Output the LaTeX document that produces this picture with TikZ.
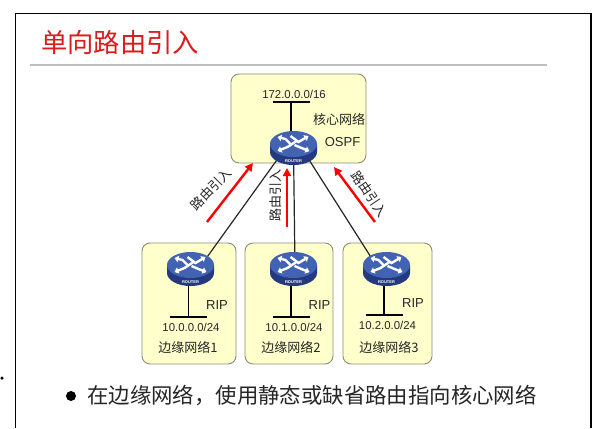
\documentclass[tikz,border=0pt]{standalone}
\usepackage{fontspec}
\setmainfont{Liberation Sans}
\newfontfamily\cjk{Noto Sans CJK SC}
\usetikzlibrary{arrows.meta,shapes.geometric}
\definecolor{boxfill}{HTML}{FFFFCC}
\definecolor{boxline}{HTML}{8C8C78}
\definecolor{rtop}{HTML}{4263B2}
\definecolor{rside}{HTML}{24397F}
\definecolor{titlered}{HTML}{DC1C1C}
\definecolor{rulegray}{HTML}{BEBEBE}
\tikzset{
 x=1pt,y=-1pt,
 netbox/.style={draw=boxline,fill=boxfill,line width=0.9pt,rounded corners=8pt},
 lbl/.style={font=\fontsize{11.4}{14}\selectfont,text=black!85,inner sep=0pt},
 riplbl/.style={font=\fontsize{13}{15}\selectfont,text=black!85,inner sep=0pt},
 cjklbl/.style={font=\fontsize{13}{15}\selectfont\cjk,text=black!85,inner sep=0pt},
 rnode/.style={ellipse,minimum width=47pt,minimum height=34pt,inner sep=0pt},
 link/.style={draw=black!85,line width=1.2pt},
 bus/.style={draw=black,line width=1.7pt},
 redarrow/.style={draw=red,line width=2.4pt,-{Triangle[length=8pt,width=8pt]}},
 rarrow/.style={draw=white,line width=2.4pt,line cap=butt,-{Triangle[length=4pt,width=6.4pt]}},
 pics/routerimg/.style={code={
  \fill[rside] (-23.5,-4) -- (-23.5,4) arc[start angle=180,end angle=0,x radius=23.5,y radius=13] -- (23.5,-4) -- cycle;
  \fill[rtop] (0,-4) ellipse[x radius=23.5,y radius=13];
  \draw[rarrow] (-2,-3) -- (-8,-9) -- (-16,-11);
  \draw[rarrow] (-3,-12) -- (5,-6) -- (15,-12);
  \draw[rarrow] (3,-7) -- (-6,-1) -- (-16,3);
  \draw[rarrow] (1,-3) -- (8,0) -- (16,3);
  \node[text=white,inner sep=0pt,font=\fontsize{4}{4}\selectfont\bfseries] at (0,13) {ROUTER};
 }}
}
\begin{document}
\begin{tikzpicture}
\useasboundingbox (0,0) rectangle (609,428);
\fill[white] (0,0) rectangle (609,428);
% frame
\draw[black,line width=1.1pt] (15.5,428) -- (15.5,13.5) -- (591,13.5) -- (591,428);
\draw[rulegray,line width=1.8pt] (30,65) -- (547,65);
\node[inner sep=0pt,anchor=west,text=titlered,font=\fontsize{26.3}{30}\selectfont\cjk] (title) at (41,42) {单向路由引入};
% boxes
\path[netbox] (231,74) rectangle (366,163);
\path[netbox] (142,243) rectangle (236,364);
\path[netbox] (245,243) rectangle (333,364);
\path[netbox] (343,243) rectangle (432,364);
% routers
\node[rnode] (r0) at (293.5,148) {};
\node[rnode] (r1) at (190.5,269) {};
\node[rnode] (r2) at (293.5,269) {};
\node[rnode] (r3) at (386.5,269) {};
% connectors
\draw[link] ([xshift=-8pt]r0.center) -- ([xshift=8pt]r1.center);
\draw[link] (r0.center) -- ([xshift=1.5pt]r2.center);
\draw[link] ([xshift=8pt]r0.center) -- ([xshift=-8pt]r3.center);
% buses
\coordinate (b0) at (291,102);
\coordinate (b1) at (188.5,317);
\coordinate (b2) at (291,317);
\coordinate (b3) at (384,315);
\draw[bus] ([xshift=-18.5pt]b0.center) -- ([xshift=18.5pt]b0.center);
\draw[bus] ([xshift=-18.5pt]b1.center) -- ([xshift=18.5pt]b1.center);
\draw[bus] ([xshift=-18.5pt]b2.center) -- ([xshift=18.5pt]b2.center);
\draw[bus] ([xshift=-18.5pt]b3.center) -- ([xshift=18.5pt]b3.center);
\draw[bus] (b0) -- (291,135);
\draw[bus] (b1) -- (188.5,282);
\draw[bus] (b2) -- (291,282);
\draw[bus] (b3) -- (384,282);
% router pictures
\pic at (r0) {routerimg};
\pic at (r1) {routerimg};
\pic at (r2) {routerimg};
\pic at (r3) {routerimg};
% labels
\node[lbl] (n0) at (294,94) {172.0.0.0/16};
\node[cjklbl] (core) at (339,119) {核心网络};
\node[riplbl] (ospf) at (342.5,142) {OSPF};
\node[lbl] (n1) at (191,327) {10.0.0.0/24};
\node[lbl] (n2) at (294,327) {10.1.0.0/24};
\node[lbl] (n3) at (387.5,325) {10.2.0.0/24};
\node[cjklbl] (e1) at (188,347) {边缘网络1};
\node[cjklbl] (e2) at (291,347) {边缘网络2};
\node[cjklbl] (e3) at (389,347) {边缘网络3};
\node[riplbl] (rip1) at (217,305) {RIP};
\node[riplbl] (rip2) at (319.5,305) {RIP};
\node[riplbl] (rip3) at (413,303) {RIP};
% red arrows
\coordinate (a1s) at (207,222); \coordinate (a1e) at (253,163);
\coordinate (a2s) at (287,227); \coordinate (a2e) at (287,168);
\coordinate (a3s) at (375,222); \coordinate (a3e) at (334,167);
\draw[redarrow] (a1s) -- (a1e);
\draw[redarrow] (a2s) -- (a2e);
\draw[redarrow] (a3s) -- (a3e);
\node[cjklbl,rotate=46] (l1) at (211,189) {路由引入};
\node[cjklbl,rotate=90] (l2) at (276,195) {路由引入};
\node[cjklbl,rotate=-56] (l3) at (369.5,194) {路由引入};
% bullet
\node[circle,fill=black,inner sep=0pt,minimum size=10pt] (bul) at (71,396) {};
\node[circle,fill=black,inner sep=0pt,minimum size=3.5pt] (dot) at (2,378) {};
\node[inner sep=0pt,anchor=west,text=black!85,font=\fontsize{21.4}{26}\selectfont\cjk] (txt) at (87,396) {在边缘网络，使用静态或缺省路由指向核心网络};
\end{tikzpicture}
\end{document}
